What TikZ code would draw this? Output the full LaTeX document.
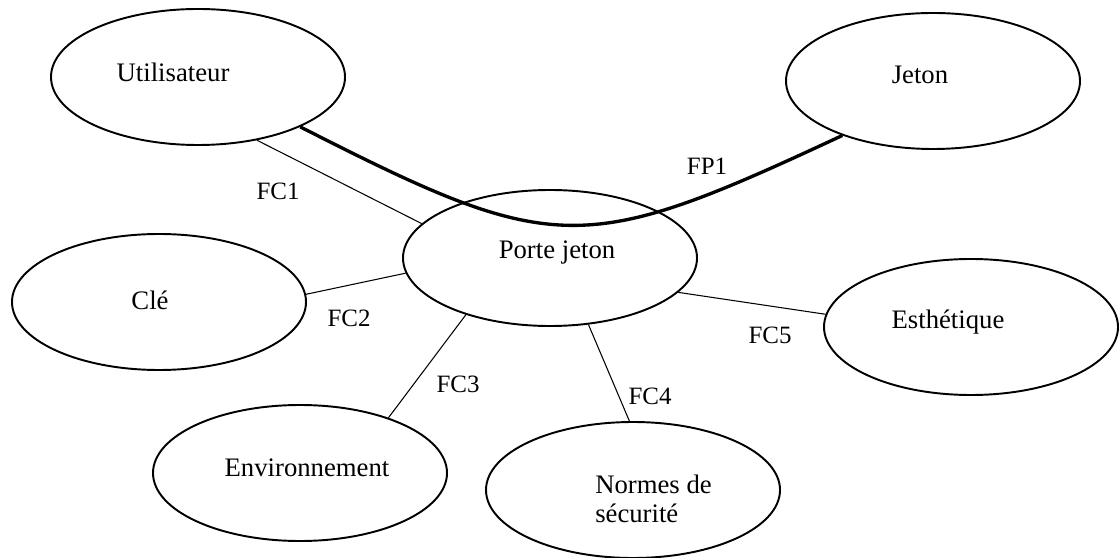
\documentclass[tikz,border=0pt]{standalone}
\usepackage{fontspec}
\setmainfont{Liberation Serif}
\usepackage{tikz}
\usetikzlibrary{shapes.geometric}

\begin{document}
\begin{tikzpicture}[
  bulle/.style={draw, ellipse, line width=1.1pt, minimum width=5.88cm, minimum height=2.72cm, inner sep=0pt},
  nom/.style={font=\fontsize{15.2}{16.5}\selectfont, inner sep=0pt},
  fc/.style={font=\fontsize{14.2}{16}\selectfont, inner sep=0pt},
  fin/.style={line width=0.6pt},
  epais/.style={line width=1.9pt}]
\useasboundingbox (0,0) rectangle (22.38,11.14);

% les bulles
\node[bulle] (USER) at (3.96,9.60) {};
\node[bulle] (JETON) at (18.66,9.52) {};
\node[bulle] (PJ) at (11.00,5.98) {};
\node[bulle] (CLE) at (3.18,5.10) {};
\node[bulle] (ESTH) at (19.42,4.60) {};
\node[bulle] (ENV) at (6.00,1.68) {};
\node[bulle] (NORMES) at (12.66,1.34) {};

\node[nom] (USERtxt) at (3.46,9.70) {Utilisateur};
\node[nom] (JETONtxt) at (18.40,9.64) {Jeton};
\node[nom] (PJtxt) at (11.14,6.08) {Porte jeton};
\node[nom] (CLEtxt) at (3.00,5.14) {Clé};
\node[nom] (ESTHtxt) at (18.96,4.70) {Esthétique};
\node[nom] (ENVtxt) at (6.14,1.78) {Environnement};
\node[nom, align=left] (NORMEStxt) at (13.07,1.16) {Normes de\\sécurité};

% fonction principale
\draw[epais] (USER.-26) to[out=-27,in=205,looseness=1.35] (JETON.211.6);

% fonctions contraintes
\draw[fin] (USER.-47) -- (PJ.165);
\draw[fin] (CLE.3) -- (PJ.-174);
\draw[fin] (PJ.-146) -- (ENV.32);
\draw[fin] (PJ.-60) -- (NORMES.93);
\draw[fin] (PJ.-15) -- (ESTH.175);

\node[fc] (FC1) at (5.56,7.32) {FC1};
\node[fc] (FP1) at (14.14,7.82) {FP1};
\node[fc] (FC2) at (6.98,4.78) {FC2};
\node[fc] (FC3) at (9.16,3.46) {FC3};
\node[fc] (FC4) at (13.00,3.22) {FC4};
\node[fc] (FC5) at (15.40,4.44) {FC5};
\end{tikzpicture}
\end{document}
